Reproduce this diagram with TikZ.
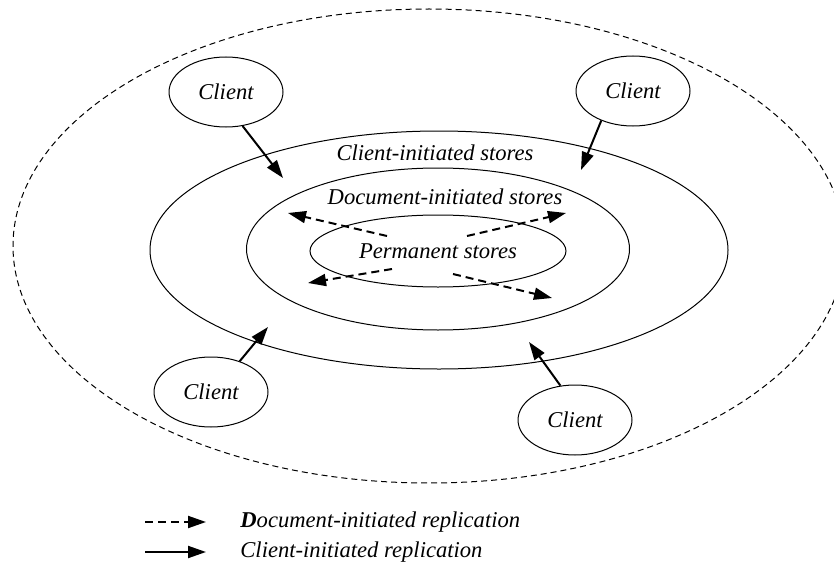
\documentclass[tikz,border=0pt]{standalone}
\usepackage{fontspec}
\setmainfont{Liberation Serif}
\usepackage{tikz}
\usetikzlibrary{arrows.meta,positioning,calc,shapes.geometric}
\newcommand{\figfont}{\fontsize{11.3}{13}\selectfont\itshape}
\tikzset{
  >={Triangle[length=9pt,width=6pt]},
  store/.style={draw,ellipse,inner sep=0pt,line width=0.5pt,font=\figfont},
  client/.style={store,minimum width=57pt,minimum height=35pt},
  lbl/.style={font=\figfont,inner sep=0pt},
  clientrep/.style={->,line width=1pt},
  docrep/.style={->,line width=1pt,dash pattern=on 4pt off 2.5pt},
}

\begin{document}
\begin{tikzpicture}[x=0.5pt,y=-0.5pt]
  \useasboundingbox (0,0) rectangle (834,567);
  % nested store rings
  \node[store,dash pattern=on 3pt off 2pt,minimum width=416pt,minimum height=237pt] (outer) at (429,246){};
  \node[store,minimum width=289pt,minimum height=119pt] (cstores) at (439,250){};
  \node[store,minimum width=191.5pt,minimum height=81pt] (dstores) at (438,249){};
  \node[store,minimum width=128pt,minimum height=36pt] (perm) at (438,251){Permanent stores};
  \node[lbl] (clbl) at (435,153){Client-initiated stores};
  \node[lbl] (dlbl) at (445,197){Document-initiated stores};
  % clients
  \node[client] (cA) at (226,92){Client};
  \node[client] (cB) at (633,91){Client};
  \node[client] (cC) at (211,392){Client};
  \node[client] (cD) at (575,420){Client};
  \coordinate (tA) at (283,178);
  \coordinate (tB) at (581,170);
  \coordinate (tC) at (268,327);
  \coordinate (tD) at (529,342);
  \draw[clientrep] (cA.-64) -- (tA);
  \draw[clientrep] (cB.-137) -- (tB);
  \draw[clientrep] (cC.47) -- (tC);
  \draw[clientrep] (cD.113) -- (tD);
  % document-initiated pushes out of the permanent stores
  \coordinate (sA) at (387,236); \coordinate (eA) at (288,213);
  \coordinate (sB) at (467,236); \coordinate (eB) at (566,213);
  \coordinate (sC) at (392,269); \coordinate (eC) at (308,283);
  \coordinate (sD) at (453,274); \coordinate (eD) at (552,298);
  \draw[docrep] (sA) -- (eA);
  \draw[docrep] (sB) -- (eB);
  \draw[docrep] (sC) -- (eC);
  \draw[docrep] (sD) -- (eD);
  % legend
  \coordinate (kA) at (145,522); \coordinate (kB) at (206,522);
  \coordinate (kC) at (145,552); \coordinate (kD) at (206,552);
  \draw[docrep] (kA) -- (kB);
  \draw[clientrep] (kC) -- (kD);
  \node[lbl,anchor=west] (kdoc) at (240,522){\textbf{D}ocument-initiated replication};
  \node[lbl,anchor=west] (kcli) at (240,552){Client-initiated replication};
\end{tikzpicture}
\end{document}
